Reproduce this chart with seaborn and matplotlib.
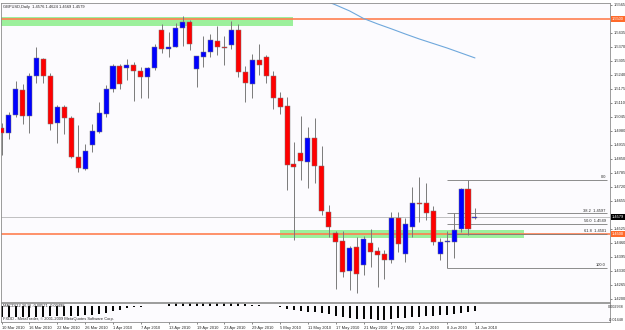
# GBPUSD daily chart (MetaTrader style) recreated with seaborn / matplotlib
import matplotlib
matplotlib.use("Agg")
import matplotlib.pyplot as plt
from matplotlib.patches import Rectangle
import numpy as np
import seaborn as sns

# ---- data ----
date_labels = ['10 Mar 2010', '16 Mar 2010', '22 Mar 2010', '26 Mar 2010', '1 Apr 2010',
               '7 Apr 2010', '13 Apr 2010', '19 Apr 2010', '23 Apr 2010', '29 Apr 2010',
               '5 May 2010', '11 May 2010', '17 May 2010', '21 May 2010', '27 May 2010',
               '2 Jun 2010', '8 Jun 2010', '14 Jun 2010']

open_ = [1.4994, 1.4971, 1.5055, 1.5171, 1.5050, 1.5236, 1.5314, 1.5236, 1.5017, 1.5092,
         1.5041, 1.4860, 1.4804, 1.4915, 1.4976, 1.5059, 1.5175, 1.5282, 1.5273, 1.5287,
         1.5259, 1.5231, 1.5273, 1.5449, 1.5361, 1.5370, 1.5458, 1.5486, 1.5268, 1.5324,
         1.5347, 1.5398, 1.5370, 1.5379, 1.5449, 1.5254, 1.5198, 1.5310, 1.5324, 1.5236,
         1.5133, 1.5096, 1.4827, 1.4878, 1.4837, 1.4948, 1.4818, 1.4604, 1.4507, 1.4470,
         1.4331, 1.4442, 1.4359, 1.4461, 1.4424, 1.4410, 1.4382, 1.4577, 1.4410, 1.4535,
         1.4646, 1.4646, 1.4609, 1.4410, 1.4465, 1.4465, 1.4526, 1.4711, 1.4576]
high = [1.5017, 1.5068, 1.5212, 1.5198, 1.5249, 1.5370, 1.5319, 1.5249, 1.5101, 1.5101,
        1.5050, 1.5008, 1.4920, 1.5013, 1.5115, 1.5194, 1.5291, 1.5291, 1.5314, 1.5301,
        1.5277, 1.5277, 1.5384, 1.5477, 1.5440, 1.5481, 1.5514, 1.5495, 1.5328, 1.5421,
        1.5430, 1.5468, 1.5421, 1.5490, 1.5477, 1.5282, 1.5338, 1.5384, 1.5333, 1.5259,
        1.5161, 1.5138, 1.4929, 1.5050, 1.4999, 1.5041, 1.4911, 1.4637, 1.4516, 1.4516,
        1.4447, 1.4488, 1.4493, 1.4526, 1.4442, 1.4428, 1.4604, 1.4604, 1.4577, 1.4721,
        1.4767, 1.4739, 1.4632, 1.4484, 1.4516, 1.4600, 1.4716, 1.4752, 1.4624]
low = [1.4869, 1.4943, 1.5045, 1.5013, 1.4971, 1.5203, 1.5203, 1.4985, 1.4925, 1.4966,
       1.4855, 1.4790, 1.4799, 1.4883, 1.4971, 1.5045, 1.5161, 1.5175, 1.5217, 1.5120,
       1.5133, 1.5133, 1.5263, 1.5342, 1.5324, 1.5370, 1.5375, 1.5356, 1.5185, 1.5277,
       1.5324, 1.5333, 1.5287, 1.5361, 1.5231, 1.5115, 1.5133, 1.5240, 1.5203, 1.5082,
       1.5059, 1.4707, 1.4474, 1.4753, 1.4716, 1.4739, 1.4591, 1.4488, 1.4247, 1.4303,
       1.4242, 1.4228, 1.4312, 1.4349, 1.4256, 1.4294, 1.4368, 1.4419, 1.4373, 1.4488,
       1.4558, 1.4567, 1.4451, 1.4382, 1.4345, 1.4391, 1.4512, 1.4498, 1.4569]
close = [1.4971, 1.5055, 1.5175, 1.5050, 1.5236, 1.5319, 1.5236, 1.5013, 1.5092, 1.5041,
         1.4860, 1.4809, 1.4888, 1.4980, 1.5064, 1.5175, 1.5282, 1.5198, 1.5287, 1.5259,
         1.5231, 1.5273, 1.5370, 1.5361, 1.5370, 1.5458, 1.5486, 1.5384, 1.5328, 1.5347,
         1.5403, 1.5370, 1.5365, 1.5449, 1.5254, 1.5203, 1.5310, 1.5287, 1.5236, 1.5133,
         1.5092, 1.4823, 1.4813, 1.4841, 1.4948, 1.4818, 1.4609, 1.4535, 1.4465, 1.4326,
         1.4437, 1.4317, 1.4479, 1.4419, 1.4405, 1.4382, 1.4577, 1.4456, 1.4549, 1.4646,
         1.4642, 1.4600, 1.4465, 1.4465, 1.4470, 1.4521, 1.4711, 1.4526, 1.4579]

# MACD(12,26,9) main line, one value per bar
macd = [-0.0115, -0.0115, -0.0115, -0.0110, -0.0110, -0.0110, -0.0110, -0.0105, -0.0105, -0.0105,
        -0.0100, -0.0100, -0.0095, -0.0090, -0.0085, -0.0070, -0.0055, -0.0040, -0.0025, -0.0015,
        -0.0010, -0.0005, -0.0003, 0.0003, 0.0015, 0.0025, 0.0032, 0.0038, 0.0040, 0.0040,
        0.0038, 0.0035, 0.0030, 0.0028, 0.0026, 0.0020, 0.0012, 0.0006, 0.0003, -0.0005,
        -0.0015, -0.0030, -0.0045, -0.0055, -0.0060, -0.0065, -0.0075, -0.0085, -0.0100, -0.0110,
        -0.0120, -0.0130, -0.0135, -0.0140, -0.0145, -0.0143, -0.0135, -0.0125, -0.0120, -0.0115,
        -0.0110, -0.0105, -0.0100, -0.0095, -0.0090, -0.0085, -0.0075, -0.0065, -0.0057]

# moving average (only the part inside the price window is visible)
ma_bars = [46, 48, 50, 52, 54, 56, 58, 60, 62, 64, 66, 68]
ma_vals = [1.5591, 1.5565, 1.5537, 1.5502, 1.5477, 1.5454, 1.5430, 1.5407, 1.5386, 1.5365, 1.5342, 1.5319]

# price scale labels (1.5500 and 1.4590 sit under the coloured price boxes)
price_ticks = [1.5565, 1.5435, 1.5370, 1.5305, 1.5240, 1.5175, 1.5110, 1.5045, 1.4980,
               1.4915, 1.4850, 1.4785, 1.4720, 1.4655, 1.4525, 1.4460, 1.4395, 1.4330,
               1.4265, 1.4200]

fib_levels = ['0.0', '38.2', '50.0', '61.8', '100.0']
fib_prices = [1.4752, 1.4597, 1.4549, 1.4501, 1.4345]

hline_prices = [1.5500, 1.4500]
bid = 1.4579
macd_scale = ['0.002938', '-0.01448']

# ---- style ----
sns.set_style('white')
plt.rcParams['font.family'] = ['Liberation Sans', 'DejaVu Sans']
bg = '#FCFBFE'
frame = '#8C8C8C'
txt = '#2A2A2A'
fs = 2.9

fig = plt.figure(figsize=(6.25, 3.3), dpi=100)
fig.patch.set_facecolor('white')
ax = fig.add_axes([1 / 625, 1 - 302 / 330, 609 / 625, 299 / 330])
ax2 = fig.add_axes([1 / 625, 1 - 322 / 330, 609 / 625, 19 / 330])

idx = np.arange(len(close))
o = np.array(open_)
c = np.array(close)
up = c >= o

xlim = (-0.09, 87.4)

# green zones (rectangles behind everything)
ax.add_patch(Rectangle((-1, 1.5467), 42.9, 0.0043, facecolor='#9CF09C', edgecolor='none', zorder=0))
ax.add_patch(Rectangle((40, 1.4483), 35.1, 0.0035, facecolor='#9CF09C', edgecolor='none', zorder=0))

# horizontal lines
for p in hline_prices:
    ax.axhline(p, color='#FF7F50', lw=1.2, zorder=1)
ax.axhline(bid, color='#A8A8A8', lw=0.5, zorder=1)

# fibonacci retracement
ax.hlines(fib_prices, 64, xlim[1] - 0.4, color='#7A7A7A', lw=0.6, zorder=1)
for lab, p in zip(fib_levels, fib_prices):
    s = lab if lab in ('0.0', '100.0') else f'{lab}  {p:.4f}'
    ax.text(xlim[1] - 0.6, p + 0.0003, s, ha='right', va='bottom', fontsize=fs, color=txt)

# candles
ax.vlines(idx, low, high, color='#7A7A7A', lw=0.7, zorder=2)
body_h = np.maximum(np.abs(c - o), 0.00012)
ax.bar(idx, body_h, bottom=np.minimum(o, c), width=0.72,
       color=np.where(up, '#0000FF', '#FF0000'), edgecolor='#7A7A7A', linewidth=0.35, zorder=3)

# moving average
sns.lineplot(x=ma_bars, y=ma_vals, ax=ax, color='#6FA8DC', lw=0.8, zorder=2)

ax.set_xlim(*xlim)
ax.set_ylim(1.4186, 1.5574)
ax.set_facecolor(bg)
ax.set_xticks([])
ax.yaxis.tick_right()
ax.set_yticks(price_ticks)
ax.set_yticklabels([f'{v:.4f}' for v in price_ticks])
ax.tick_params(axis='y', labelsize=fs, length=1.5, width=0.4, pad=1, colors=txt, right=True)
for s in ax.spines.values():
    s.set_color(frame)
    s.set_linewidth(0.6)

# price boxes on the axis
tr = ax.get_yaxis_transform()
for p, col in [(1.5500, '#FF6A2A'), (bid, '#000000'), (1.4500, '#FF6A2A')]:
    ax.text(1.003, p, f'{p:.4f}', transform=tr, ha='left', va='center', fontsize=fs, color='white',
            bbox=dict(boxstyle='square,pad=0.25', facecolor=col, edgecolor='none'), clip_on=False)

ax.text(0.004, 0.992, 'GBPUSD,Daily  1.4576 1.4624 1.4569 1.4579', transform=ax.transAxes,
        ha='left', va='top', fontsize=fs, color=txt)

# MACD panel: histogram of the main line
ax2.vlines(idx, 0, macd, color='#000000', lw=1.4, zorder=2)
ax2.set_xlim(*xlim)
ax2.set_ylim(-0.0166, 0.0030)
ax2.set_facecolor(bg)
ax2.set_yticks([])
ax2.set_xticks(idx[::4])
ax2.set_xticklabels(date_labels, ha='left')
ax2.tick_params(axis='x', labelsize=fs, length=1.5, width=0.4, pad=1.5, colors=txt, bottom=True)
for s in ax2.spines.values():
    s.set_color(frame)
    s.set_linewidth(0.6)
ax2.text(0.004, 0.93, 'MACD(12,26,9) -0.00571 -0.00498', transform=ax2.transAxes,
         ha='left', va='top', fontsize=fs, color=txt, zorder=3)
ax2.text(0.004, 0.05, 'FXDD - MetaTrader, © 2001-2009 MetaQuotes Software Corp.', transform=ax2.transAxes,
         ha='left', va='bottom', fontsize=fs, color=txt, zorder=3)
narrow = ['Liberation Sans Narrow', 'Liberation Sans', 'DejaVu Sans']
fig.text(624 / 625, 1 - 307 / 330, macd_scale[0], ha='right', va='center', fontsize=2.7, color=txt, family=narrow)
fig.text(624 / 625, 1 - 320 / 330, macd_scale[1], ha='right', va='center', fontsize=2.7, color=txt, family=narrow)

fig.savefig('out.png', dpi=100, facecolor='white')
